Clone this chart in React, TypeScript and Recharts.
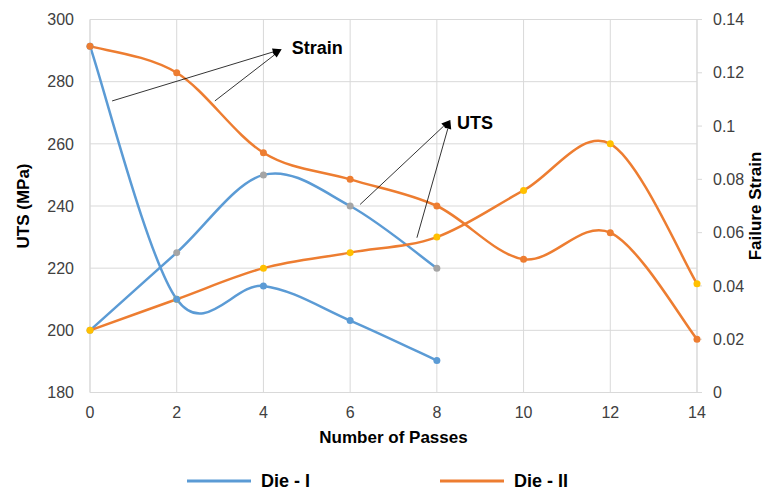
import React from 'react';
import { LineChart, Line, XAxis, YAxis, CartesianGrid, Legend, ReferenceLine, ReferenceDot } from 'recharts';

// ---- data ----
const passes = [0, 2, 4, 6, 8, 10, 12, 14];
const die1UTS = [200, 225, 250, 240, 220];
const die1Strain = [0.13, 0.035, 0.04, 0.027, 0.012];
const die2UTS = [200, 210, 220, 225, 230, 245, 260, 215];
const die2Strain = [0.13, 0.12, 0.09, 0.08, 0.07, 0.05, 0.06, 0.02];

const utsTicks = [180, 200, 220, 240, 260, 280, 300];
const strainTicks = [0, 0.02, 0.04, 0.06, 0.08, 0.1, 0.12, 0.14];

// annotation arrows (in passes / UTS units)
const strainArrows = [
  { from: { x: 0.51, y: 273.8 }, to: { x: 4.42, y: 290.4 } },
  { from: { x: 2.88, y: 273.8 }, to: { x: 4.42, y: 290.4 } },
];
const utsArrows = [
  { from: { x: 6.23, y: 240.5 }, to: { x: 8.31, y: 267.7 } },
  { from: { x: 7.54, y: 229.8 }, to: { x: 8.31, y: 267.7 } },
];
const notes = [
  { x: 4.655, y: 288.75, text: 'Strain' },
  { x: 8.463, y: 264.7, text: 'UTS' },
];

const data = passes.map((p, i) => ({
  pass: p,
  d1uts: die1UTS[i],
  d1strain: die1Strain[i],
  d2uts: die2UTS[i],
  d2strain: die2Strain[i],
}));

const BLUE = '#5B9BD5';
const ORANGE = '#ED7D31';
const GRAY = '#A5A5A5';
const YELLOW = '#FFC000';
const GRID = '#D9D9D9';
const TICK = '#404040';
const FONT = '"Liberation Sans", Arial, sans-serif';

// Excel-like smoothed line (Catmull-Rom style bezier)
class ExcelSmooth {
  _context: any;
  _pts: number[][] = [];
  constructor(context: any) {
    this._context = context;
  }
  areaStart() {}
  areaEnd() {}
  lineStart() {
    this._pts = [];
  }
  lineEnd() {
    const p = this._pts;
    const c = this._context;
    const n = p.length;
    if (!n) return;
    c.moveTo(p[0][0], p[0][1]);
    for (let i = 0; i < n - 1; i++) {
      const p0 = p[i > 0 ? i - 1 : i];
      const p1 = p[i];
      const p2 = p[i + 1];
      const p3 = p[i + 2 < n ? i + 2 : i + 1];
      c.bezierCurveTo(
        p1[0] + (p2[0] - p0[0]) / 6,
        p1[1] + (p2[1] - p0[1]) / 6,
        p2[0] - (p3[0] - p1[0]) / 6,
        p2[1] - (p3[1] - p1[1]) / 6,
        p2[0],
        p2[1]
      );
    }
  }
  point(x: number, y: number) {
    this._pts.push([+x, +y]);
  }
}
const excelSmooth: any = (ctx: any) => new ExcelSmooth(ctx);

const Arrow = (props: any) => {
  const { x1, y1, x2, y2 } = props;
  const dx = x2 - x1;
  const dy = y2 - y1;
  const len = Math.hypot(dx, dy) || 1;
  const ux = dx / len;
  const uy = dy / len;
  const L = 9;
  const W = 3.5;
  const bx = x2 - ux * L;
  const by = y2 - uy * L;
  return (
    <g>
      <line x1={x1} y1={y1} x2={bx} y2={by} stroke="#000" strokeWidth={0.8} />
      <polygon
        points={`${x2},${y2} ${bx - uy * W},${by + ux * W} ${bx + uy * W},${by - ux * W}`}
        fill="#000"
      />
    </g>
  );
};

const noteShape = (text: string) => (props: any) => (
  <text x={props.cx} y={props.cy} fontSize={18} fontWeight="bold" fill="#000" fontFamily={FONT}>
    {text}
  </text>
);

const LeftTitle = (props: any) => {
  const vb = props.viewBox || {};
  const cx = vb.x + 23;
  const cy = vb.y + vb.height / 2;
  return (
    <text
      x={cx}
      y={cy}
      transform={`rotate(-90, ${cx}, ${cy})`}
      textAnchor="middle"
      dy="0.36em"
      fontSize={17}
      fontWeight="bold"
      fill="#000"
      fontFamily={FONT}
    >
      UTS (MPa)
    </text>
  );
};

const RightTitle = (props: any) => {
  const vb = props.viewBox || {};
  const cx = vb.x + 58;
  const cy = vb.y + vb.height / 2;
  return (
    <text
      x={cx}
      y={cy}
      transform={`rotate(-90, ${cx}, ${cy})`}
      textAnchor="middle"
      dy="0.36em"
      fontSize={17}
      fontWeight="bold"
      fill="#000"
      fontFamily={FONT}
    >
      Failure Strain
    </text>
  );
};

const legendItems = [
  { label: 'Die - I', color: BLUE },
  { label: 'Die - II', color: ORANGE },
];

const LegendContent = () => (
  <div
    style={{
      display: 'flex',
      justifyContent: 'center',
      alignItems: 'center',
      height: 30,
      fontFamily: FONT,
      fontWeight: 'bold',
      fontSize: 18,
      color: '#000',
      paddingRight: 12,
    }}
  >
    {legendItems.map((it, i) => (
      <div key={it.label} style={{ display: 'flex', alignItems: 'center', marginLeft: i === 0 ? 0 : 130 }}>
        <svg width={64} height={10} style={{ marginRight: 10 }}>
          <line x1={0} y1={5} x2={64} y2={5} stroke={it.color} strokeWidth={3} />
        </svg>
        <span>{it.label}</span>
      </div>
    ))}
  </div>
);

export default function App() {
  return (
    <div style={{ position: 'absolute', left: 0, top: 0, width: 767, height: 492, background: '#fff' }}>
      <LineChart
        width={767}
        height={492}
        data={data}
        margin={{ top: 19.5, right: 0, left: 0, bottom: 14.5 }}
        style={{ fontFamily: FONT }}
      >
        <CartesianGrid stroke={GRID} strokeWidth={1} yAxisId="left" />
        <XAxis
          dataKey="pass"
          type="number"
          domain={[0, 14]}
          ticks={passes}
          interval={0}
          tickLine={false}
          tickSize={0}
          tickMargin={14}
          axisLine={{ stroke: GRID }}
          tick={{ fill: TICK, fontSize: 16 }}
          height={55}
          label={{
            value: 'Number of Passes',
            position: 'insideBottom',
            offset: 4.5,
            style: { fontWeight: 'bold', fontSize: 17, fill: '#000' },
          }}
        />
        <YAxis
          yAxisId="left"
          orientation="left"
          domain={[180, 300]}
          ticks={utsTicks}
          interval={0}
          width={90}
          tickLine={false}
          tickSize={0}
          tickMargin={16}
          axisLine={{ stroke: GRID }}
          tick={{ fill: TICK, fontSize: 16 }}
          label={<LeftTitle />}
        />
        <YAxis
          yAxisId="right"
          orientation="right"
          domain={[0, 0.14]}
          ticks={strainTicks}
          interval={0}
          width={70}
          tickLine={{ stroke: GRID }}
          tickSize={5}
          tickMargin={11}
          axisLine={{ stroke: GRID }}
          tick={{ fill: TICK, fontSize: 16 }}
          label={<RightTitle />}
        />
        <Legend
          verticalAlign="bottom"
          content={<LegendContent />}
          wrapperStyle={{ top: 466, bottom: 'auto', left: 0, width: 767, height: 30 }}
        />
        <Line
          yAxisId="left"
          dataKey="d1uts"
          type={excelSmooth}
          stroke={BLUE}
          strokeWidth={2.5}
          dot={{ r: 3.5, fill: GRAY, stroke: 'none' }}
          activeDot={false}
          isAnimationActive={false}
          legendType="none"
        />
        <Line
          yAxisId="left"
          dataKey="d2uts"
          type={excelSmooth}
          stroke={ORANGE}
          strokeWidth={2.5}
          dot={{ r: 3.5, fill: YELLOW, stroke: 'none' }}
          activeDot={false}
          isAnimationActive={false}
          legendType="none"
        />
        <Line
          yAxisId="right"
          dataKey="d1strain"
          type={excelSmooth}
          stroke={BLUE}
          strokeWidth={2.5}
          dot={{ r: 3.5, fill: BLUE, stroke: 'none' }}
          activeDot={false}
          isAnimationActive={false}
          name="Die - I"
        />
        <Line
          yAxisId="right"
          dataKey="d2strain"
          type={excelSmooth}
          stroke={ORANGE}
          strokeWidth={2.5}
          dot={{ r: 3.5, fill: ORANGE, stroke: 'none' }}
          activeDot={false}
          isAnimationActive={false}
          name="Die - II"
        />
        {strainArrows.concat(utsArrows).map((a, i) => (
          <ReferenceLine
            key={`arrow-${i}`}
            yAxisId="left"
            segment={[a.from, a.to]}
            shape={Arrow}
            ifOverflow="visible"
          />
        ))}
        {notes.map((n) => (
          <ReferenceDot
            key={n.text}
            yAxisId="left"
            x={n.x}
            y={n.y}
            r={1}
            shape={noteShape(n.text)}
            ifOverflow="visible"
          />
        ))}
      </LineChart>
    </div>
  );
}
